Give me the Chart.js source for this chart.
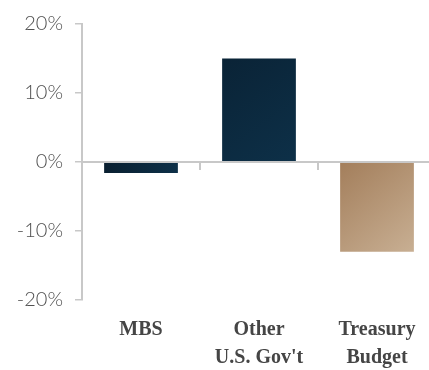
<!DOCTYPE html>
<html>
<head>
<meta charset="utf-8">
<script src="https://cdn.jsdelivr.net/npm/chart.js@4"></script>
<style>
  html, body { margin: 0; padding: 0; background: #fff; overflow: hidden; }
  #wrap { position: relative; width: 436px; height: 370px; }
</style>
</head>
<body>
<div id="wrap"><canvas id="myChart"></canvas></div>
<script>
const ctx = document.getElementById("myChart").getContext("2d");

// categorias e valores (%)
const categorias = [["MBS"], ["Other", "U.S. Gov't"], ["Treasury", "Budget"]];
const valores = [-1.6, 15, -13];
const yTicks = [-20, -10, 0, 10, 20];

// cores: inicio / fim do gradiente por barra
const coresInicio = ["#091f30", "#0a2336", "#a37e5b"];
const coresFim = ["#0d3048", "#0d3048", "#c8af93"];

const eixoCor = "#c8c8c8";

function barGradient(context) {
  const chart = context.chart;
  const i = context.dataIndex;
  if (!chart.chartArea) return coresInicio[i];
  const xs = chart.scales.x, ys = chart.scales.y;
  const cx = xs.getPixelForValue(i);
  const half = 37;
  const y0 = ys.getPixelForValue(0);
  const y1 = ys.getPixelForValue(valores[i]);
  const g = chart.ctx.createLinearGradient(cx - half, Math.min(y0, y1), cx + half, Math.max(y0, y1));
  g.addColorStop(0, coresInicio[i]);
  g.addColorStop(1, coresFim[i]);
  return g;
}

// linha do zero e marcas entre categorias
const linhaZero = {
  id: "linhaZero",
  afterDatasetsDraw(chart) {
    const c = chart.ctx;
    const xs = chart.scales.x, ys = chart.scales.y;
    const y = ys.getPixelForValue(0);
    c.save();
    c.strokeStyle = eixoCor;
    c.lineWidth = 2;
    c.beginPath();
    c.moveTo(chart.chartArea.left, y);
    c.lineTo(chart.chartArea.right, y);
    for (let i = 1; i < categorias.length; i++) {
      const x = Math.round((xs.getPixelForValue(i - 1) + xs.getPixelForValue(i)) / 2);
      c.moveTo(x, y);
      c.lineTo(x, y + 8);
    }
    c.stroke();
    c.restore();
  }
};

const myChart = new Chart(ctx, {
  type: "bar",
  data: {
    labels: categorias,
    datasets: [
      {
        data: valores,
        backgroundColor: barGradient,
        borderWidth: 0,
        barPercentage: 1,
        categoryPercentage: 0.625,
      },
    ],
  },
  options: {
    animation: { duration: 0 },
    responsive: true,
    maintainAspectRatio: false,
    layout: { padding: { top: 16, left: 0, right: 0, bottom: 0 } },
    scales: {
      y: {
        min: -20,
        max: 20,
        afterBuildTicks: (scale) => {
          scale.ticks = yTicks.map((v) => ({ value: v }));
        },
        afterFit: (scale) => { scale.width = 82; },
        border: { display: true, color: eixoCor, width: 2 },
        grid: {
          drawOnChartArea: false,
          drawTicks: true,
          tickLength: 7,
          color: eixoCor,
          lineWidth: 1.5,
        },
        ticks: {
          padding: 12,
          color: "#505050",
          font: { family: "Lato", weight: 300, size: 20 },
          callback: (v) => v + "%",
        },
      },
      x: {
        afterFit: (scale) => { scale.height = 70; },
        border: { display: false },
        grid: { display: false },
        ticks: {
          padding: 8,
          color: "#454545",
          maxRotation: 0,
          font: { family: "Liberation Serif", weight: "bold", size: 20, lineHeight: 1.4 },
        },
      },
    },
    plugins: {
      legend: { display: false },
      tooltip: { enabled: false },
    },
  },
  plugins: [linhaZero],
});
</script>
</body>
</html>
